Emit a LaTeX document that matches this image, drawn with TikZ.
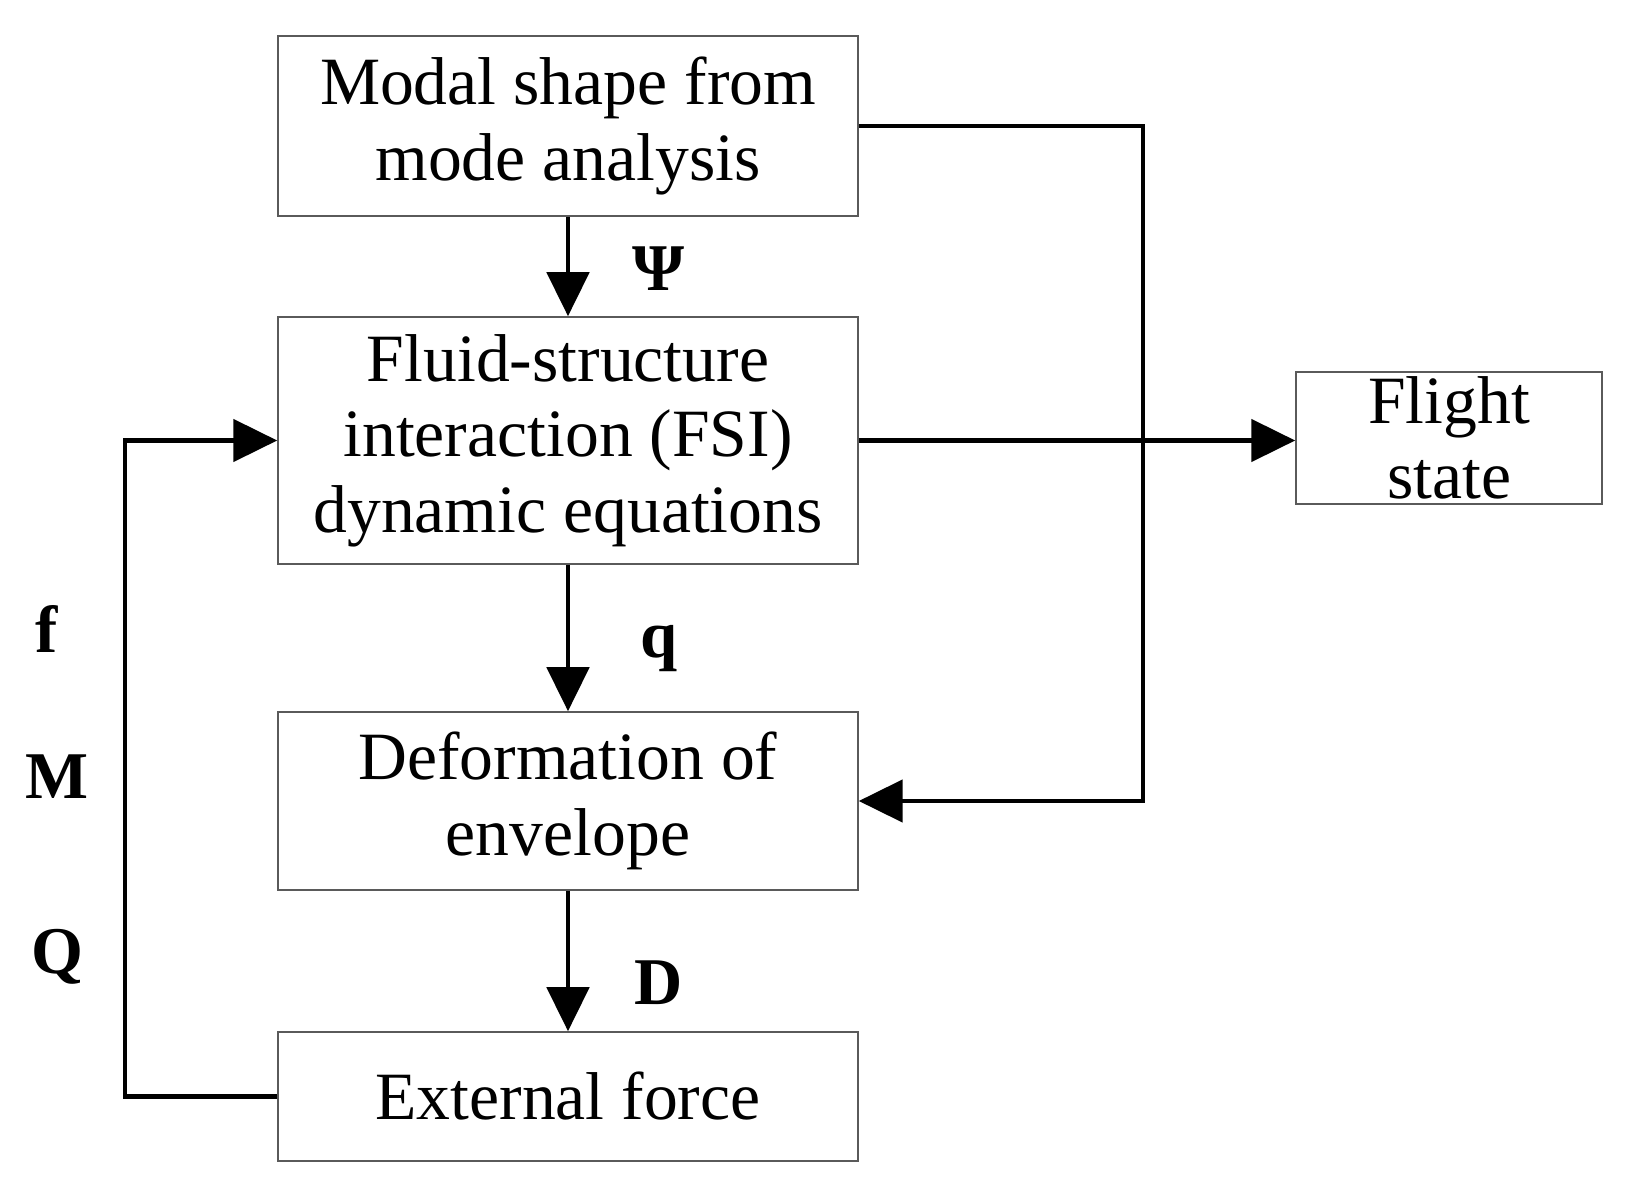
\documentclass[tikz,border=0pt]{standalone}
\usepackage{fontspec}
\setmainfont{Liberation Serif}
\usetikzlibrary{arrows.meta, positioning, calc}
\usepackage{xcolor}
\definecolor{boxgray}{RGB}{90, 90, 90}

\begin{document}
\begin{tikzpicture}[x=0.02cm, y=-0.02cm,
    blk/.style={draw=boxgray, line width=0.9pt, fill=white, align=center,
      inner sep=0pt, font=\fontsize{38.5}{43}\selectfont},
    flow/.style={line width=2.8pt, -{Triangle[length=0.88cm, width=0.84cm]}},
    lbl/.style={font=\fontsize{38}{43}\selectfont\bfseries}]
  \useasboundingbox (0,0) rectangle (1635,1195);

  % main chain
  \node[blk, minimum width=11.6cm, minimum height=3.6cm] (modal) at (568,126)
    {Modal shape from\\mode analysis};
  \node[blk, minimum width=11.6cm, minimum height=4.94cm] (fsi) at (568,440.5)
    {Fluid-structure\\interaction (FSI)\\dynamic equations};
  \node[blk, minimum width=11.6cm, minimum height=3.56cm] (deform) at (568,801)
    {Deformation of\\envelope};
  \node[blk, minimum width=11.6cm, minimum height=2.58cm] (force) at (568,1096.5)
    {External force};
  \node[blk, minimum width=6.12cm, minimum height=2.64cm] (flight) at (1449,438)
    {Flight\\state};

  \draw[flow] (modal.south) -- (fsi.north);
  \draw[flow] (fsi.south) -- (deform.north);
  \draw[flow] (deform.south) -- (force.north);

  % side branches
  \coordinate (rbus) at (1143,126);
  \coordinate (lbus) at (125,1096.5);
  \draw[flow] (fsi.east) -- (fsi.east -| flight.west);
  \draw[flow] (modal.east) -- (rbus) |- (deform.east);
  \draw[flow] (force.west) -- (lbus) |- (fsi.west);

  % variable labels
  \node[lbl] (psi) at (659,269) {Ψ};
  \node[lbl] (qvar) at (659,649) {q};
  \node[lbl] (dvar) at (659,983) {D};
  \node[lbl] (fvar) at (47,629) {f};
  \node[lbl] (mvar) at (57,777) {M};
  \node[lbl] (Qvar) at (57,957) {Q};
\end{tikzpicture}
\end{document}
